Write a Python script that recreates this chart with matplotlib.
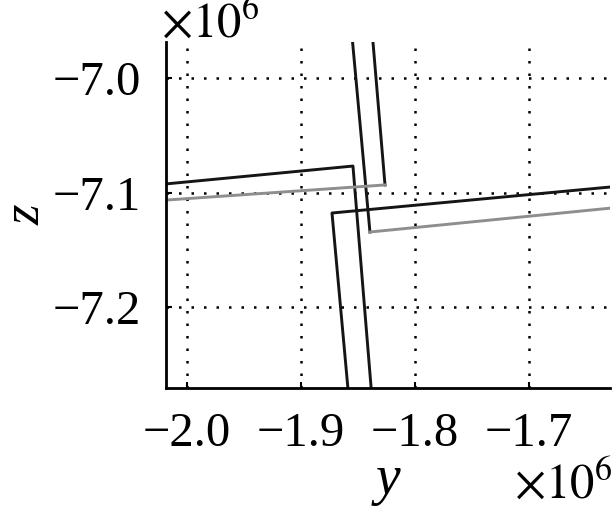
"""trajectory projection plot, y-z plane"""
import matplotlib
matplotlib.use("Agg")
import matplotlib.pyplot as plt
from matplotlib import rcParams

# data in units of 1e6
path1_y = [-2.03, -1.8544, -1.8377]
path1_z = [-7.0936, -7.0769, -7.2800]
path2_y = [-1.8560, -1.8395]
path2_z = [-6.9550, -7.1345]
path2_gray_y = [-1.8395, -1.6200]
path2_gray_z = [-7.1345, -7.1128]
path3_y = [-1.8380, -1.8263]
path3_z = [-6.9550, -7.0934]
path3_gray_y = [-1.8263, -2.03]
path3_gray_z = [-7.0934, -7.1074]
path4_y = [-1.6200, -1.8728, -1.8580]
path4_z = [-7.0944, -7.1179, -7.2800]

xticks = [-2.0, -1.9, -1.8, -1.7]
xtick_labels = ["\u22122.0", "\u22121.9", "\u22121.8", "\u22121.7"]
yticks = [-7.0, -7.1, -7.2]
ytick_labels = ["\u22127.0", "\u22127.1", "\u22127.2"]

rcParams.update({'font.family': 'Liberation Serif', 'mathtext.fontset': 'stix', 'font.size': 35})

fig = plt.figure(figsize=(6.14, 5.08), dpi=100)
ax = fig.add_axes([0.2704, 0.2362, 0.7231, 0.6811])

dark = "#151515"
gray = "#8e8e8e"
lw = 2.1
ax.plot(path1_y, path1_z, c=dark, linewidth=lw)
ax.plot(path2_y, path2_z, c=dark, linewidth=lw)
ax.plot(path2_gray_y, path2_gray_z, c=gray, linewidth=lw)
ax.plot(path3_y, path3_z, c=dark, linewidth=lw)
ax.plot(path3_gray_y, path3_gray_z, c=gray, linewidth=lw)
ax.plot(path4_y, path4_z, c=dark, linewidth=lw)

ax.set_xlim(-2.0184, -1.6289)
ax.set_ylim(-7.2707, -6.9686)
ax.set_xticks(xticks)
ax.set_xticklabels(xtick_labels)
ax.set_yticks(yticks)
ax.set_yticklabels(ytick_labels)
ax.tick_params(direction="in", length=4, width=1.5, pad=18)
ax.tick_params(axis="x", pad=17)
ax.grid(True, color="black", linestyle=(0, (1, 4.0)), linewidth=1.8)
ax.spines["top"].set_visible(False)
ax.spines["right"].set_visible(False)
ax.spines["left"].set_linewidth(2)
ax.spines["bottom"].set_linewidth(2)

ax.set_xlabel("y", style="italic", fontsize=40, va="baseline")
ax.xaxis.set_label_coords(0.5, -0.306)
ax.set_ylabel("z", style="italic", fontsize=38, va="center")
ax.yaxis.set_label_coords(-0.315, 0.5)

fig.text(0.263, 0.927, r"$\times10^6$", fontsize=35, ha="left", va="baseline")
fig.text(0.997, 0.02, r"$\times10^6$", fontsize=35, ha="right", va="baseline")

fig.savefig("out.png", dpi=100)
plt.close(fig)
